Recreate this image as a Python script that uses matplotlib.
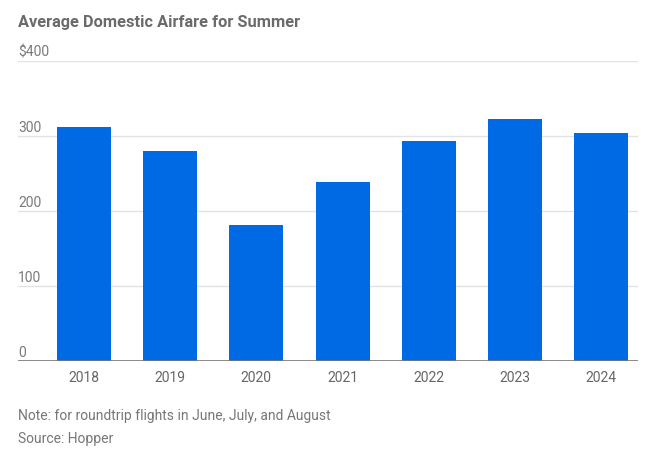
import matplotlib
matplotlib.use("Agg")
import matplotlib.pyplot as plt

years = ["2018", "2019", "2020", "2021", "2022", "2023", "2024"]
fares = [312, 280, 181, 239, 293, 323, 304]
yticks = [0, 100, 200, 300, 400]
ytick_labels = ["0", "100", "200", "300", "$400"]

title = "Average Domestic Airfare for Summer"
note = "Note: for roundtrip flights in June, July, and August"
source = "Source: Hopper"

plt.rcParams['font.family'] = ['Roboto', 'DejaVu Sans']
W, H = 652, 454
fig = plt.figure(figsize=(W/100, H/100), dpi=100)
ax = fig.add_axes([18/W, (H-361)/H, (638-18)/W, (361-61)/H])

x = list(range(len(years)))
ax.bar(x, fares, width=0.627, color="#006AE4", zorder=2)
ax.set_xlim(-0.766, 6.429)
ax.set_ylim(0, 400)

for t in yticks[1:]:
    ax.axhline(t, color="#e3e3e3", lw=1, zorder=1)
ax.axhline(0, color="#777777", lw=1.2, zorder=3)

for t, lab in zip(yticks, ytick_labels):
    ax.text(0, t + 1.5, lab, transform=ax.get_yaxis_transform(), ha="left", va="bottom",
            fontsize=10, color="#7a7a7a")

ax.set_yticks([])
ax.set_xticks(x)
ax.set_xticklabels(years, fontsize=10, color="#666666")
ax.tick_params(axis="x", length=0, pad=7)
for s in ax.spines.values():
    s.set_visible(False)

fig.text(18/W, 1-22/H, title, ha="left", va="center", fontsize=11.8,
         fontweight="bold", color="#6b6b6b")
fig.text(18/W, 1-416/H, note, ha="left", va="center", fontsize=10, color="#777777")
fig.text(18/W, 1-439/H, source, ha="left", va="center", fontsize=10, color="#777777")

fig.savefig("out.png", dpi=100, facecolor="white")
